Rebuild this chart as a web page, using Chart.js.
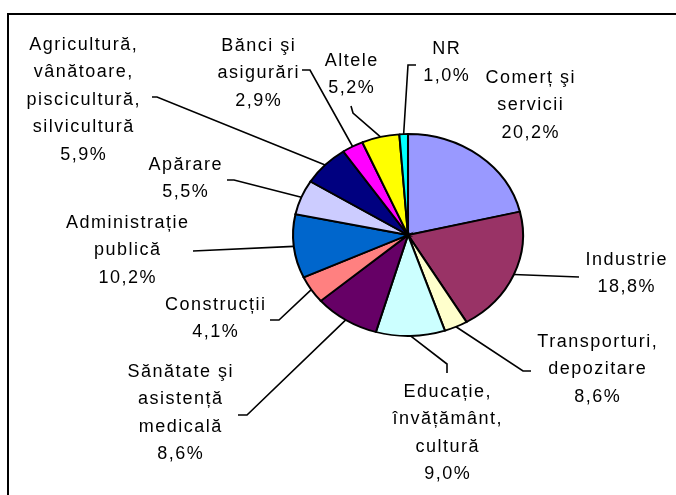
<!DOCTYPE html>
<html>
<head>
<meta charset="utf-8">
<script src="https://cdn.jsdelivr.net/npm/chart.js@4"></script>
<style>
    html, body { margin: 0; padding: 0; background: #fff; }
    #wrap { position: relative; width: 676px; height: 495px; overflow: hidden; }
    #frame { position: absolute; left: 7px; top: 13px; width: 700px; height: 520px;
             border-left: 2px solid #000; border-top: 2px solid #000; }
</style>
</head>
<body>
<div id="wrap">
    <div id="frame"></div>
    <canvas id="chart" width="676" height="495" style="position:absolute;left:0;top:0;"></canvas>
</div>
<script>
// categorias (ordem horaria a partir das 12h)
const categories = [
    'Comerț şi servicii', 'Industrie', 'Transporturi, depozitare',
    'Educație, învățământ, cultură', 'Sănătate şi asistență medicală', 'Construcții',
    'Administrație publică', 'Apărare', 'Agricultură, vânătoare, piscicultură, silvicultură',
    'Bănci şi asigurări', 'Altele', 'NR'
];
// tamanho das fatias como aparecem no desenho
const sliceValues = [21.3, 20.2, 3.3, 9.7, 9.2, 4.4, 10.2, 5.6, 6.6, 3.0, 5.3, 1.2];
// percentagens escritas nos rotulos
const percentLabels = ['20,2%', '18,8%', '8,6%', '9,0%', '8,6%', '4,1%', '10,2%', '5,5%', '5,9%', '2,9%', '5,2%', '1,0%'];
// quebras de linha dos rotulos
const labelLines = [
    ['Comerț şi', 'servicii'],
    ['Industrie'],
    ['Transporturi,', 'depozitare'],
    ['Educație,', 'învățământ,', 'cultură'],
    ['Sănătate şi', 'asistență', 'medicală'],
    ['Construcții'],
    ['Administrație', 'publică'],
    ['Apărare'],
    ['Agricultură,', 'vânătoare,', 'piscicultură,', 'silvicultură'],
    ['Bănci şi', 'asigurări'],
    ['Altele'],
    ['NR']
];
const sliceColors = ['#9999FF', '#993366', '#FFFFCC', '#CCFFFF', '#660066', '#FF8080',
                     '#0066CC', '#CCCCFF', '#000080', '#FF00FF', '#FFFF00', '#00FFFF'];

// posicao dos rotulos (centro x, meio da 1a linha) e pontas das linhas de chamada
const labelLayout = [
    { x: 530, y: 78,  leader: null },
    { x: 626, y: 260, leader: [[579, 277]] },
    { x: 597, y: 342, leader: [[531, 371], [523, 371]] },
    { x: 447, y: 392, leader: [[447, 373], [447, 364]] },
    { x: 180, y: 372, leader: [[238, 415], [247, 415]] },
    { x: 215, y: 305, leader: [[270, 320], [279, 320]] },
    { x: 127, y: 223, leader: [[193, 251]] },
    { x: 185, y: 165, leader: [[227, 180], [234, 180]] },
    { x: 83,  y: 45,  leader: [[152, 97], [157, 97]] },
    { x: 258, y: 46,  leader: [[302, 70], [310, 70]] },
    { x: 351, y: 61,  leader: [[351, 106], [353, 113]] },
    { x: 446, y: 49,  leader: [[416, 65], [408, 65]] }
];

const PIE_RADIUS = 101;
const X_STRETCH = 115 / 101;   // pizza levemente eliptica
const LINE_H = 27.5;
const SPACING = 1.5;

// achata a pizza na horizontal
const ellipsePlugin = {
    id: 'ellipse',
    beforeDatasetsDraw(chart) {
        const arc = chart.getDatasetMeta(0).data[0];
        const ctx = chart.ctx;
        ctx.save();
        ctx.translate(arc.x, arc.y);
        ctx.scale(X_STRETCH, 1);
        ctx.translate(-arc.x, -arc.y);
    },
    afterDatasetsDraw(chart) {
        chart.ctx.restore();
    }
};

// rotulos externos com linhas de chamada
const labelsPlugin = {
    id: 'outerLabels',
    afterDraw(chart) {
        const ctx = chart.ctx;
        const meta = chart.getDatasetMeta(0);
        ctx.save();
        ctx.strokeStyle = '#000';
        ctx.lineWidth = 1.6;
        meta.data.forEach((arc, i) => {
            const lay = labelLayout[i];
            if (lay.leader) {
                const mid = (arc.startAngle + arc.endAngle) / 2;
                const px = arc.x + Math.cos(mid) * arc.outerRadius * X_STRETCH;
                const py = arc.y + Math.sin(mid) * arc.outerRadius;
                ctx.beginPath();
                ctx.moveTo(lay.leader[0][0], lay.leader[0][1]);
                lay.leader.slice(1).forEach(p => ctx.lineTo(p[0], p[1]));
                ctx.lineTo(px, py);
                ctx.stroke();
            }
            const lines = labelLines[i].concat([percentLabels[i]]);
            ctx.fillStyle = '#000';
            ctx.font = '18px "Liberation Sans", Arial, sans-serif';
            ctx.letterSpacing = SPACING + 'px';
            ctx.textAlign = 'center';
            ctx.textBaseline = 'middle';
            lines.forEach((t, k) => {
                ctx.fillText(t, lay.x + SPACING / 2, lay.y + k * LINE_H);
            });
        });
        ctx.restore();
    }
};

new Chart(document.getElementById('chart'), {
    type: 'pie',
    data: {
        labels: categories,
        datasets: [{
            data: sliceValues,
            backgroundColor: sliceColors,
            borderColor: '#000',
            borderWidth: 1.8,
            borderJoinStyle: 'miter'
        }]
    },
    options: {
        responsive: false,
        animation: false,
        radius: PIE_RADIUS,
        layout: { padding: { left: 200, right: 60, top: 100, bottom: 125 } },
        plugins: {
            legend: { display: false },
            tooltip: { enabled: false }
        }
    },
    plugins: [ellipsePlugin, labelsPlugin]
});
</script>
</body>
</html>
